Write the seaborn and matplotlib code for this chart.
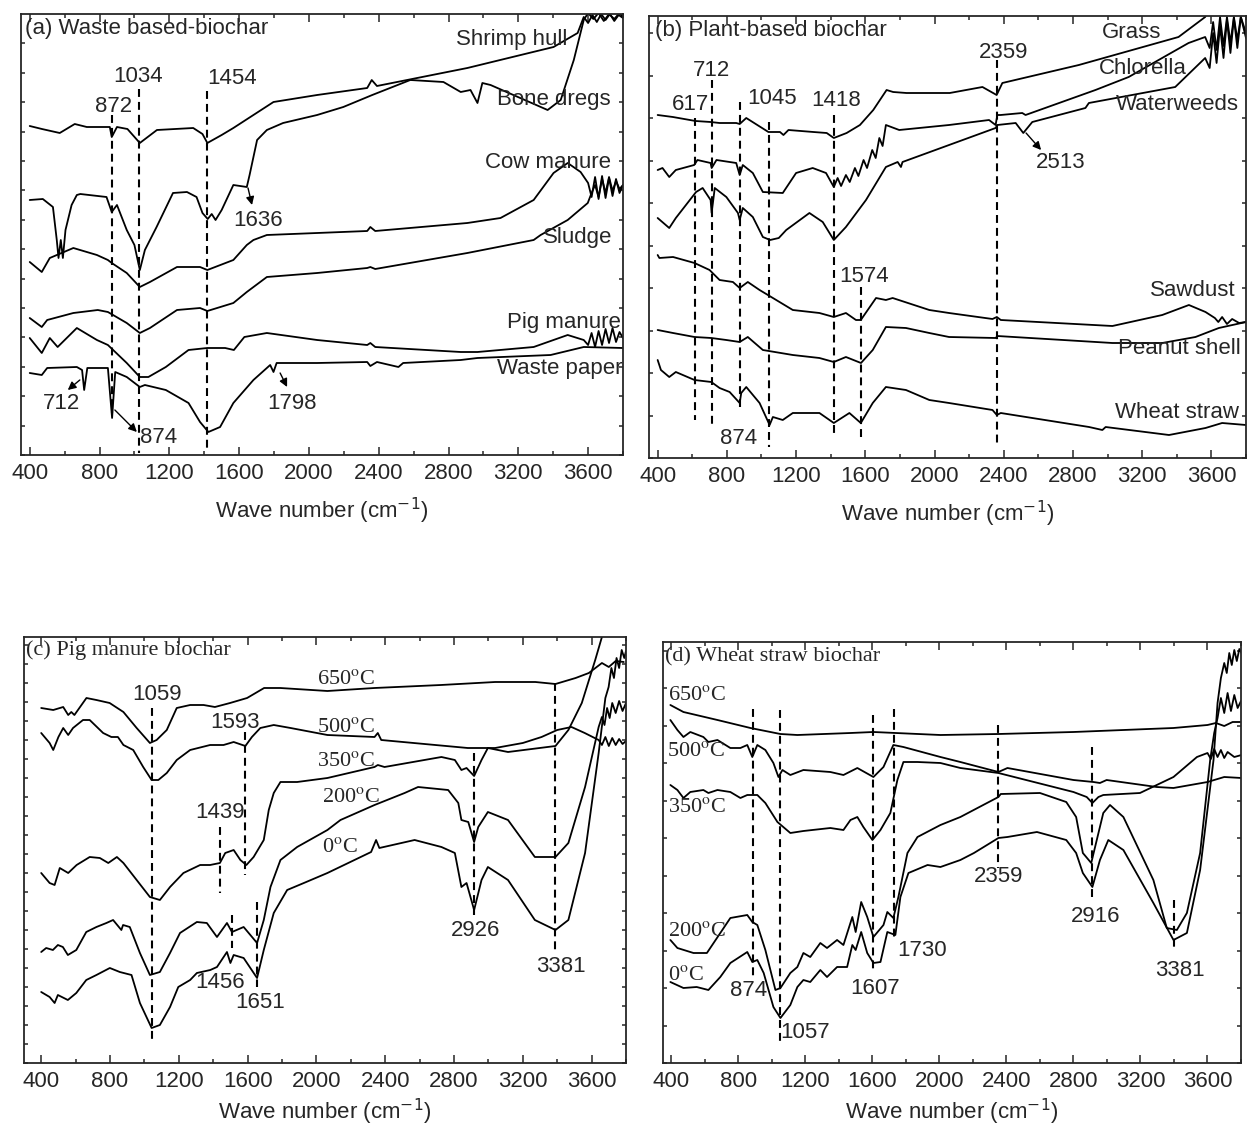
import numpy as np
import pandas as pd
import matplotlib
matplotlib.use('Agg')
import matplotlib.pyplot as plt
import seaborn as sns
from matplotlib.ticker import MultipleLocator, FixedLocator, NullFormatter

# -------------------------
# FTIR spectra: (wave number, transmittance a.u.)
# -------------------------
# (a) waste based biochar
shrimp_hull = [(400,329),(470,326),(572,322),(658,331),(727,328),(859,328),(870,318),(900,328),(960,326),(1031,312),(1129,325),(1337,327),(1390,321),(1418,312),(1500,320),(1567,327),(1682,340),(1797,353),(2047,360),(2334,367),(2360,375),(2390,369),(2908,387),(3402,408),(3540,422),(3575,438),(3600,432),(3625,440),(3650,433),(3675,441),(3700,435),(3725,441),(3750,434),(3775,440),(3800,437)]
bone_dregs = [(400,255),(475,256),(533,248),(555,215),(565,197),(578,215),(590,197),(605,225),(640,250),(670,260),(690,261),(840,258),(870,243),(900,250),(956,225),(1000,210),(1031,185),(1060,205),(1127,228),(1221,262),(1301,263),(1356,258),(1390,242),(1420,236),(1443,241),(1465,235),(1500,245),(1567,270),(1644,268),(1660,280),(1703,315),(1759,325),(1852,332),(2047,340),(2197,348),(2363,360),(2581,375),(2771,373),(2870,363),(2926,365),(2966,352),(2994,372),(3041,370),(3368,345),(3443,355),(3518,395),(3575,435),(3600,442),(3630,436),(3660,442),(3690,434),(3720,441),(3750,436),(3780,442),(3800,438)]
cow_manure = [(400,193),(469,183),(515,197),(650,207),(785,200),(848,195),(870,192),(956,182),(1031,168),(1089,173),(1244,188),(1376,188),(1418,185),(1567,195),(1644,210),(1682,215),(1759,220),(2047,222),(2334,224),(2352,228),(2380,224),(2908,232),(3098,237),(3288,255),(3402,282),(3483,292),(3557,283),(3600,272),(3620,258),(3640,278),(3660,256),(3680,279),(3700,257),(3720,277),(3740,259),(3760,276),(3780,262),(3800,270)]
sludge = [(400,137),(469,128),(500,135),(650,142),(790,145),(848,143),(956,132),(1031,122),(1089,127),(1244,145),(1376,147),(1418,144),(1567,152),(1644,163),(1759,178),(2047,182),(2334,187),(2352,188),(2380,186),(2908,202),(3288,215),(3328,220),(3483,235),(3598,252),(3620,262),(3640,270),(3660,258),(3680,276),(3700,262),(3720,278),(3740,264),(3760,274),(3780,266),(3800,270)]
pig_manure = [(400,117),(469,102),(515,117),(560,108),(670,127),(785,115),(848,110),(956,92),(1031,78),(1080,78),(1180,88),(1310,105),(1418,107),(1520,107),(1570,105),(1630,118),(1759,122),(2047,115),(2334,110),(2352,112),(2380,108),(2870,103),(2966,103),(3288,108),(3483,120),(3575,115),(3600,110),(3620,122),(3640,108),(3660,124),(3680,110),(3700,126),(3720,112),(3740,127),(3760,113),(3780,123),(3800,117)]
waste_paper = [(400,82),(469,80),(500,87),(670,88),(700,85),(712,65),(730,87),(848,87),(872,37),(890,83),(956,78),(1031,68),(1060,70),(1180,65),(1310,52),(1376,33),(1424,23),(1491,28),(1567,52),(1682,75),(1778,90),(1797,83),(1815,92),(2047,92),(2334,93),(2352,89),(2390,93),(2513,88),(2540,92),(2870,95),(2966,97),(3385,100),(3575,108),(3800,107)]

# (b) plant based biochar
grass = [(400,343),(488,341),(619,337),(706,336),(758,335),(854,335),(874,334),(912,340),(1040,326),(1107,326),(1127,323),(1156,328),(1300,326),(1377,325),(1418,320),(1492,325),(1569,333),(1646,348),(1723,368),(1761,366),(1838,365),(2088,365),(2277,371),(2359,363),(2392,375),(2834,393),(3410,421),(3564,441),(3600,452),(3800,455)]
chlorella = [(400,288),(428,290),(467,281),(505,288),(611,293),(630,298),(706,295),(712,290),(740,298),(854,295),(874,283),(892,293),(950,285),(1008,266),(1123,265),(1200,285),(1296,290),(1373,285),(1418,271),(1440,280),(1460,272),(1488,283),(1510,276),(1540,290),(1560,282),(1590,298),(1610,290),(1640,308),(1660,300),(1681,320),(1700,312),(1719,333),(1796,328),(2084,333),(2315,338),(2353,333),(2363,343),(2382,343),(2507,345),(2526,343),(2930,368),(3122,381),(3468,415),(3564,421),(3590,410),(3610,436),(3630,408),(3650,441),(3670,412),(3690,441),(3710,415),(3730,441),(3750,418),(3770,441),(3800,425)]
waterweeds = [(400,240),(467,230),(505,240),(622,266),(660,270),(706,258),(712,245),(730,270),(797,261),(864,245),(874,238),(892,250),(950,241),(1008,221),(1050,218),(1100,220),(1143,228),(1277,245),(1354,236),(1418,218),(1488,231),(1604,258),(1719,291),(1787,296),(1806,291),(1815,296),(2084,313),(2353,330),(2363,333),(2469,335),(2513,325),(2565,336),(2872,350),(2892,355),(3391,371),(3564,400),(3590,390),(3610,425),(3630,395),(3650,432),(3670,400),(3690,438),(3710,405),(3730,440),(3750,410),(3770,441),(3800,420)]
sawdust = [(400,203),(410,200),(489,201),(613,195),(700,188),(758,178),(835,176),(874,170),(921,176),(989,168),(1066,160),(1181,148),(1335,145),(1418,141),(1488,145),(1546,138),(1574,138),(1662,160),(1719,158),(1758,160),(1970,148),(2084,145),(2335,139),(2360,141),(2383,138),(3028,132),(3316,143),(3470,153),(3566,146),(3620,140),(3640,136),(3662,141),(3690,134),(3720,139),(3760,135),(3800,136)]
peanut_shell = [(400,128),(489,125),(613,121),(710,120),(797,118),(874,116),(921,121),(1008,108),(1181,103),(1335,100),(1418,96),(1488,101),(1575,95),(1643,108),(1719,131),(1835,130),(1970,125),(2084,121),(2354,120),(2363,122),(3028,115),(3316,115),(3508,121),(3643,130),(3800,136)]
wheat_straw = [(400,98),(419,88),(467,81),(505,86),(613,78),(710,76),(758,70),(816,66),(874,55),(883,65),(912,71),(989,55),(1047,33),(1066,41),(1123,38),(1181,45),(1335,45),(1418,35),(1508,45),(1574,35),(1643,55),(1719,71),(1835,68),(1970,58),(2084,55),(2335,48),(2360,43),(2383,45),(2893,31),(2970,28),(2989,31),(3355,23),(3566,30),(3662,35),(3800,33)]

# (c) pig manure biochar at different temperatures
pm_650 = [(400,355),(470,353),(528,356),(557,348),(575,351),(593,348),(663,365),(721,363),(798,360),(878,351),(955,335),(1032,320),(1071,323),(1130,333),(1188,355),(1266,358),(1344,358),(1410,356),(1498,360),(1597,365),(1696,375),(1790,375),(2064,372),(2338,375),(2724,378),(3039,381),(3273,381),(3390,379),(3507,385),(3584,390),(3660,400),(3700,396),(3740,402),(3787,401)]
pm_500 = [(400,330),(449,320),(470,313),(500,326),(528,335),(557,328),(585,335),(643,343),(682,343),(760,330),(808,326),(846,326),(878,318),(935,313),(993,296),(1042,283),(1081,283),(1130,290),(1188,303),(1266,313),(1382,318),(1460,318),(1519,321),(1587,317),(1625,326),(1674,335),(1752,338),(1850,335),(2064,328),(2338,326),(2357,330),(2377,323),(2880,315),(3039,315),(3200,320),(3309,326),(3400,333),(3483,336),(3560,330),(3641,323),(3660,318),(3680,326),(3700,317),(3720,325),(3740,318),(3760,324),(3780,319),(3800,322)]
pm_350 = [(400,190),(449,180),(478,178),(508,195),(557,190),(606,198),(682,206),(741,205),(790,200),(840,206),(878,200),(955,183),(1032,166),(1090,163),(1149,176),(1227,190),(1324,198),(1382,198),(1439,200),(1470,210),(1519,213),(1558,203),(1593,198),(1635,206),(1694,223),(1723,253),(1752,270),(1791,281),(1888,281),(2064,285),(2338,296),(2357,298),(2396,296),(2727,306),(2805,303),(2843,293),(2873,295),(2917,287),(2960,303),(2997,315),(3114,311),(3390,317),(3465,333),(3543,360),(3621,403),(3660,426),(3700,450),(3800,460)]
pm_200 = [(400,111),(429,115),(468,113),(497,118),(526,116),(555,108),(604,113),(662,131),(721,136),(779,140),(818,143),(866,133),(876,138),(915,136),(974,110),(1032,88),(1090,91),(1149,110),(1207,130),(1305,141),(1363,140),(1422,126),(1480,140),(1509,131),(1577,136),(1655,120),(1694,143),(1733,176),(1791,203),(1888,216),(2064,233),(2140,243),(2338,258),(2513,270),(2591,276),(2766,273),(2825,260),(2843,243),(2883,241),(2917,221),(2941,236),(2997,251),(3114,243),(3270,206),(3390,206),(3465,220),(3562,276),(3641,336),(3660,346),(3675,338),(3690,355),(3705,345),(3720,360),(3740,350),(3760,362),(3780,352),(3800,360)]
pm_0 = [(400,71),(449,66),(478,60),(497,68),(555,63),(604,70),(662,83),(721,88),(799,95),(857,91),(925,88),(974,60),(1042,35),(1090,38),(1149,56),(1197,76),(1266,83),(1305,90),(1383,93),(1422,96),(1480,111),(1500,100),(1519,108),(1577,105),(1655,85),(1694,113),(1752,150),(1830,173),(1927,180),(2064,190),(2318,211),(2347,223),(2366,215),(2571,223),(2727,216),(2805,210),(2843,176),(2873,180),(2917,153),(2960,183),(2997,196),(3114,183),(3270,143),(3390,133),(3465,143),(3562,210),(3641,310),(3680,365),(3699,376),(3715,395),(3730,385),(3745,405),(3760,395),(3775,413),(3790,405),(3800,412)]

# (d) wheat straw biochar at different temperatures
ws_650 = [(394,358),(472,351),(675,343),(872,335),(1051,329),(1152,328),(1469,330),(1606,331),(2006,328),(2352,329),(2800,331),(3397,335),(3600,338),(3650,340),(3700,337),(3750,341),(3803,341)]
ws_500 = [(394,343),(436,333),(472,326),(513,331),(591,326),(621,321),(675,323),(752,315),(812,315),(853,318),(883,306),(913,318),(961,313),(1009,300),(1039,286),(1063,293),(1110,288),(1188,293),(1349,291),(1427,288),(1510,295),(1606,286),(1666,296),(1725,318),(1785,316),(2006,306),(2125,301),(2352,291),(2406,295),(2800,283),(2919,281),(2958,280),(2998,283),(3297,276),(3397,275),(3600,281),(3700,286),(3803,285)]
ws_350 = [(394,278),(436,273),(472,265),(513,271),(591,273),(621,270),(675,273),(752,271),(812,265),(853,268),(913,268),(961,260),(1033,241),(1110,230),(1188,232),(1349,235),(1427,233),(1469,243),(1510,246),(1546,236),(1600,223),(1648,233),(1707,250),(1749,283),(1785,301),(1869,301),(2006,300),(2125,295),(2352,290),(2800,271),(2879,266),(2913,260),(2949,266),(2978,268),(3197,270),(3397,286),(3537,306),(3600,310),(3620,304),(3640,314),(3660,306),(3680,313),(3700,305),(3720,311),(3760,306),(3803,308)]
ws_200 = [(394,123),(436,115),(532,110),(612,110),(652,120),(692,130),(752,145),(853,148),(883,141),(913,138),(961,113),(1021,73),(1051,75),(1110,90),(1152,96),(1188,110),(1229,106),(1289,120),(1329,115),(1389,123),(1427,118),(1480,146),(1500,131),(1533,161),(1569,146),(1606,126),(1666,138),(1689,151),(1725,145),(1755,166),(1809,210),(1869,226),(2006,238),(2125,246),(2352,266),(2366,269),(2600,270),(2757,261),(2816,246),(2856,210),(2906,200),(2978,250),(3018,258),(3098,246),(3277,183),(3357,135),(3417,133),(3477,150),(3556,210),(3616,303),(3640,330),(3660,345),(3680,365),(3700,350),(3720,370),(3740,352),(3760,368),(3780,355),(3800,362)]
ws_0 = [(394,81),(472,75),(551,76),(621,73),(692,86),(752,100),(853,111),(883,101),(913,103),(951,90),(1009,56),(1051,45),(1110,58),(1152,76),(1188,83),(1229,81),(1289,93),(1329,86),(1389,96),(1449,96),(1480,118),(1500,113),(1533,131),(1569,110),(1606,100),(1648,101),(1689,131),(1737,128),(1767,166),(1815,190),(1929,198),(2006,196),(2125,203),(2206,210),(2352,225),(2406,226),(2582,231),(2757,223),(2816,210),(2856,190),(2913,176),(2958,203),(3008,223),(3098,213),(3277,160),(3397,123),(3477,130),(3556,193),(3636,303),(3660,360),(3680,385),(3700,400),(3715,390),(3730,410),(3745,398),(3760,413),(3775,402),(3790,414),(3803,410)]

# dashed peak markers: (wave number, top, bottom)
marks_a = [(870, 340, 42), (1025, 366, 2), (1418, 364, 5)]
marks_b = [(617, 340, 38), (712, 378, 33), (874, 356, 51), (1045, 336, 11), (1418, 343, 21), (1574, 171, 18), (2359, 398, 11)]
marks_c = [(1042, 355, 21), (1587, 331, 188), (1439, 236, 170), (1509, 148, 115), (1655, 161, 76), (2917, 310, 148), (3390, 380, 111)]
marks_d = [(890, 354, 83), (1051, 353, 21), (1606, 348, 93), (1731, 354, 123), (2352, 338, 195), (2913, 316, 165), (3403, 163, 115)]

# peak labels: (text, x, y)
peaks_a = [('1034', 1020, 378), ('1454', 1560, 377), ('872', 882, 349), ('1636', 1709, 235), ('712', 584, 52), ('874', 1140, 18), ('1798', 1904, 52)]
peaks_b = [('712', 712, 388), ('617', 590, 353), ('1045', 1064, 360), ('1418', 1433, 358), ('2359', 2397, 406), ('2513', 2731, 295), ('1574', 1594, 181), ('874', 867, 20)]
peaks_c = [('1059', 1072, 368), ('1593', 1527, 340), ('1439', 1439, 250), ('1456', 1439, 81), ('1651', 1673, 60), ('2926', 2923, 133), ('3381', 3419, 96)]
peaks_d = [('874', 860, 73), ('1057', 1200, 30), ('1607', 1618, 75), ('1730', 1899, 113), ('2359', 2352, 186), ('2916', 2931, 146), ('3381', 3433, 93)]

# arrows: (tail, head)
arrows_a = [((1651, 267), (1674, 250)), ((687, 75), (618, 65)), ((888, 45), (1014, 23)), ((1835, 82), (1875, 68))]
arrows_b = [((2529, 325), (2616, 308))]

# sample names: (text, right x, y)
names_a = [('Shrimp hull', 3483, 415), ('Bone dregs', 3730, 355), ('Cow manure', 3730, 293), ('Sludge', 3741, 218), ('Pig manure', 3787, 133), ('Waste paper', 3798, 87)]
names_b = [('Grass', 3308, 425), ('Chlorella', 3458, 390), ('Waterweeds', 3758, 353), ('Sawdust', 3741, 168), ('Peanut shell', 3770, 110), ('Wheat straw', 3758, 46)]

temps = ['650', '500', '350', '200', '0']
temp_pos_c = [(2006, 383), (2006, 335), (2006, 301), (2035, 265), (2035, 215)]
temp_pos_d = [(382, 368), (376, 311), (382, 255), (382, 131), (382, 88)]

sns.set_style('ticks')
plt.rcParams['font.family'] = ['Liberation Sans', 'DejaVu Sans']
plt.rcParams['axes.linewidth'] = 1.3
SERIF = ['Liberation Serif', 'DejaVu Serif']
FS = 16


def draw_panel(ax, curves, xlim, ytop, ystep, labelpad):
    df = pd.concat([pd.DataFrame(pts, columns=['wn', 't']).assign(sample=name)
                    for name, pts in curves.items()])
    sns.lineplot(data=df, x='wn', y='t', units='sample', estimator=None, sort=False,
                 color='black', lw=1.3, ax=ax, legend=False)
    ax.set_xlim(*xlim)
    ax.set_ylim(0, ytop)
    ax.xaxis.set_major_locator(MultipleLocator(400))
    ax.xaxis.set_minor_locator(MultipleLocator(200))
    ax.yaxis.set_major_locator(FixedLocator(np.arange(0, ytop, ystep)))
    ax.yaxis.set_major_formatter(NullFormatter())
    ax.tick_params(axis='both', which='both', direction='in', top=True, right=True, width=1.1)
    ax.tick_params(axis='x', which='major', length=6, labelsize=FS, pad=6)
    ax.tick_params(axis='x', which='minor', length=3)
    ax.tick_params(axis='y', which='major', length=3)
    ax.set_xticks([400, 800, 1200, 1600, 2000, 2400, 2800, 3200, 3600])
    ax.set_ylabel('')
    ax.set_xlabel('Wave number (cm$^{-1}$)', fontsize=FS, labelpad=labelpad,
                  math_fontfamily='dejavusans')


def draw_marks(ax, marks):
    for x, y0, y1 in marks:
        ax.plot([x, x], [y0, y1], color='black', lw=1.5, ls=(0, (3.8, 2.4)))


def draw_texts(ax, items, **kw):
    for s, x, y in items:
        ax.text(x, y, s, fontsize=FS, ha='center', va='center', **kw)


def draw_arrows(ax, arrows):
    for tail, head in arrows:
        ax.annotate('', xy=head, xytext=tail,
                    arrowprops=dict(arrowstyle='-|>', color='black', lw=1.0,
                                    shrinkA=0, shrinkB=0, mutation_scale=12))


fig = plt.figure(figsize=(12.48, 11.31), dpi=100)
W, H = 1248, 1131
ax_a = fig.add_axes([21 / W, 1 - 455 / H, 602 / W, 441 / H])
ax_b = fig.add_axes([649 / W, 1 - 458 / H, 597 / W, 442 / H])
ax_c = fig.add_axes([24 / W, 1 - 1063 / H, 602 / W, 426 / H])
ax_d = fig.add_axes([663 / W, 1 - 1063 / H, 578 / W, 421 / H])

# (a)
draw_panel(ax_a, {'Shrimp hull': shrimp_hull, 'Bone dregs': bone_dregs, 'Cow manure': cow_manure,
                  'Sludge': sludge, 'Pig manure': pig_manure, 'Waste paper': waste_paper},
           (350, 3800), 441, 441 / 15, 8)
draw_marks(ax_a, marks_a)
draw_texts(ax_a, peaks_a)
draw_arrows(ax_a, arrows_a)
for s, x, y in names_a:
    ax_a.text(x, y, s, fontsize=FS, ha='right', va='center')
ax_a.text(0.007, 0.968, '(a) Waste based-biochar', transform=ax_a.transAxes,
          fontsize=FS, ha='left', va='center')

# (b)
draw_panel(ax_b, {'Grass': grass, 'Chlorella': chlorella, 'Waterweeds': waterweeds,
                  'Sawdust': sawdust, 'Peanut shell': peanut_shell, 'Wheat straw': wheat_straw},
           (350, 3800), 442, 42.5, 8)
draw_marks(ax_b, marks_b)
draw_texts(ax_b, peaks_b)
draw_arrows(ax_b, arrows_b)
for s, x, y in names_b:
    ax_b.text(x, y, s, fontsize=FS, ha='right', va='center')
ax_b.text(0.01, 0.968, '(b) Plant-based biochar', transform=ax_b.transAxes,
          fontsize=FS, ha='left', va='center')

# (c)
draw_panel(ax_c, {'650': pm_650, '500': pm_500, '350': pm_350, '200': pm_200, '0': pm_0},
           (300, 3800), 426, 19, 3)
draw_marks(ax_c, marks_c)
draw_texts(ax_c, peaks_c)
for t, (x, y) in zip(temps, temp_pos_c):
    ax_c.text(x, y, t + r'$^\mathrm{o}$C', fontsize=FS, ha='left', va='center',
              family=SERIF, math_fontfamily='stix')
ax_c.text(0.003, 0.969, '(c) Pig manure biochar', transform=ax_c.transAxes,
          fontsize=FS, ha='left', va='center', family=SERIF)

# (d)
draw_panel(ax_d, {'650': ws_650, '500': ws_500, '350': ws_350, '200': ws_200, '0': ws_0},
           (350, 3800), 421, 37.5, 3)
draw_marks(ax_d, marks_d)
draw_texts(ax_d, peaks_d)
for t, (x, y) in zip(temps, temp_pos_d):
    ax_d.text(x, y, t + r'$^\mathrm{o}$C', fontsize=FS, ha='left', va='center',
              family=SERIF, math_fontfamily='stix')
ax_d.text(0.003, 0.964, '(d) Wheat straw biochar', transform=ax_d.transAxes,
          fontsize=FS, ha='left', va='center', family=SERIF)

fig.savefig('out.png', dpi=100)
